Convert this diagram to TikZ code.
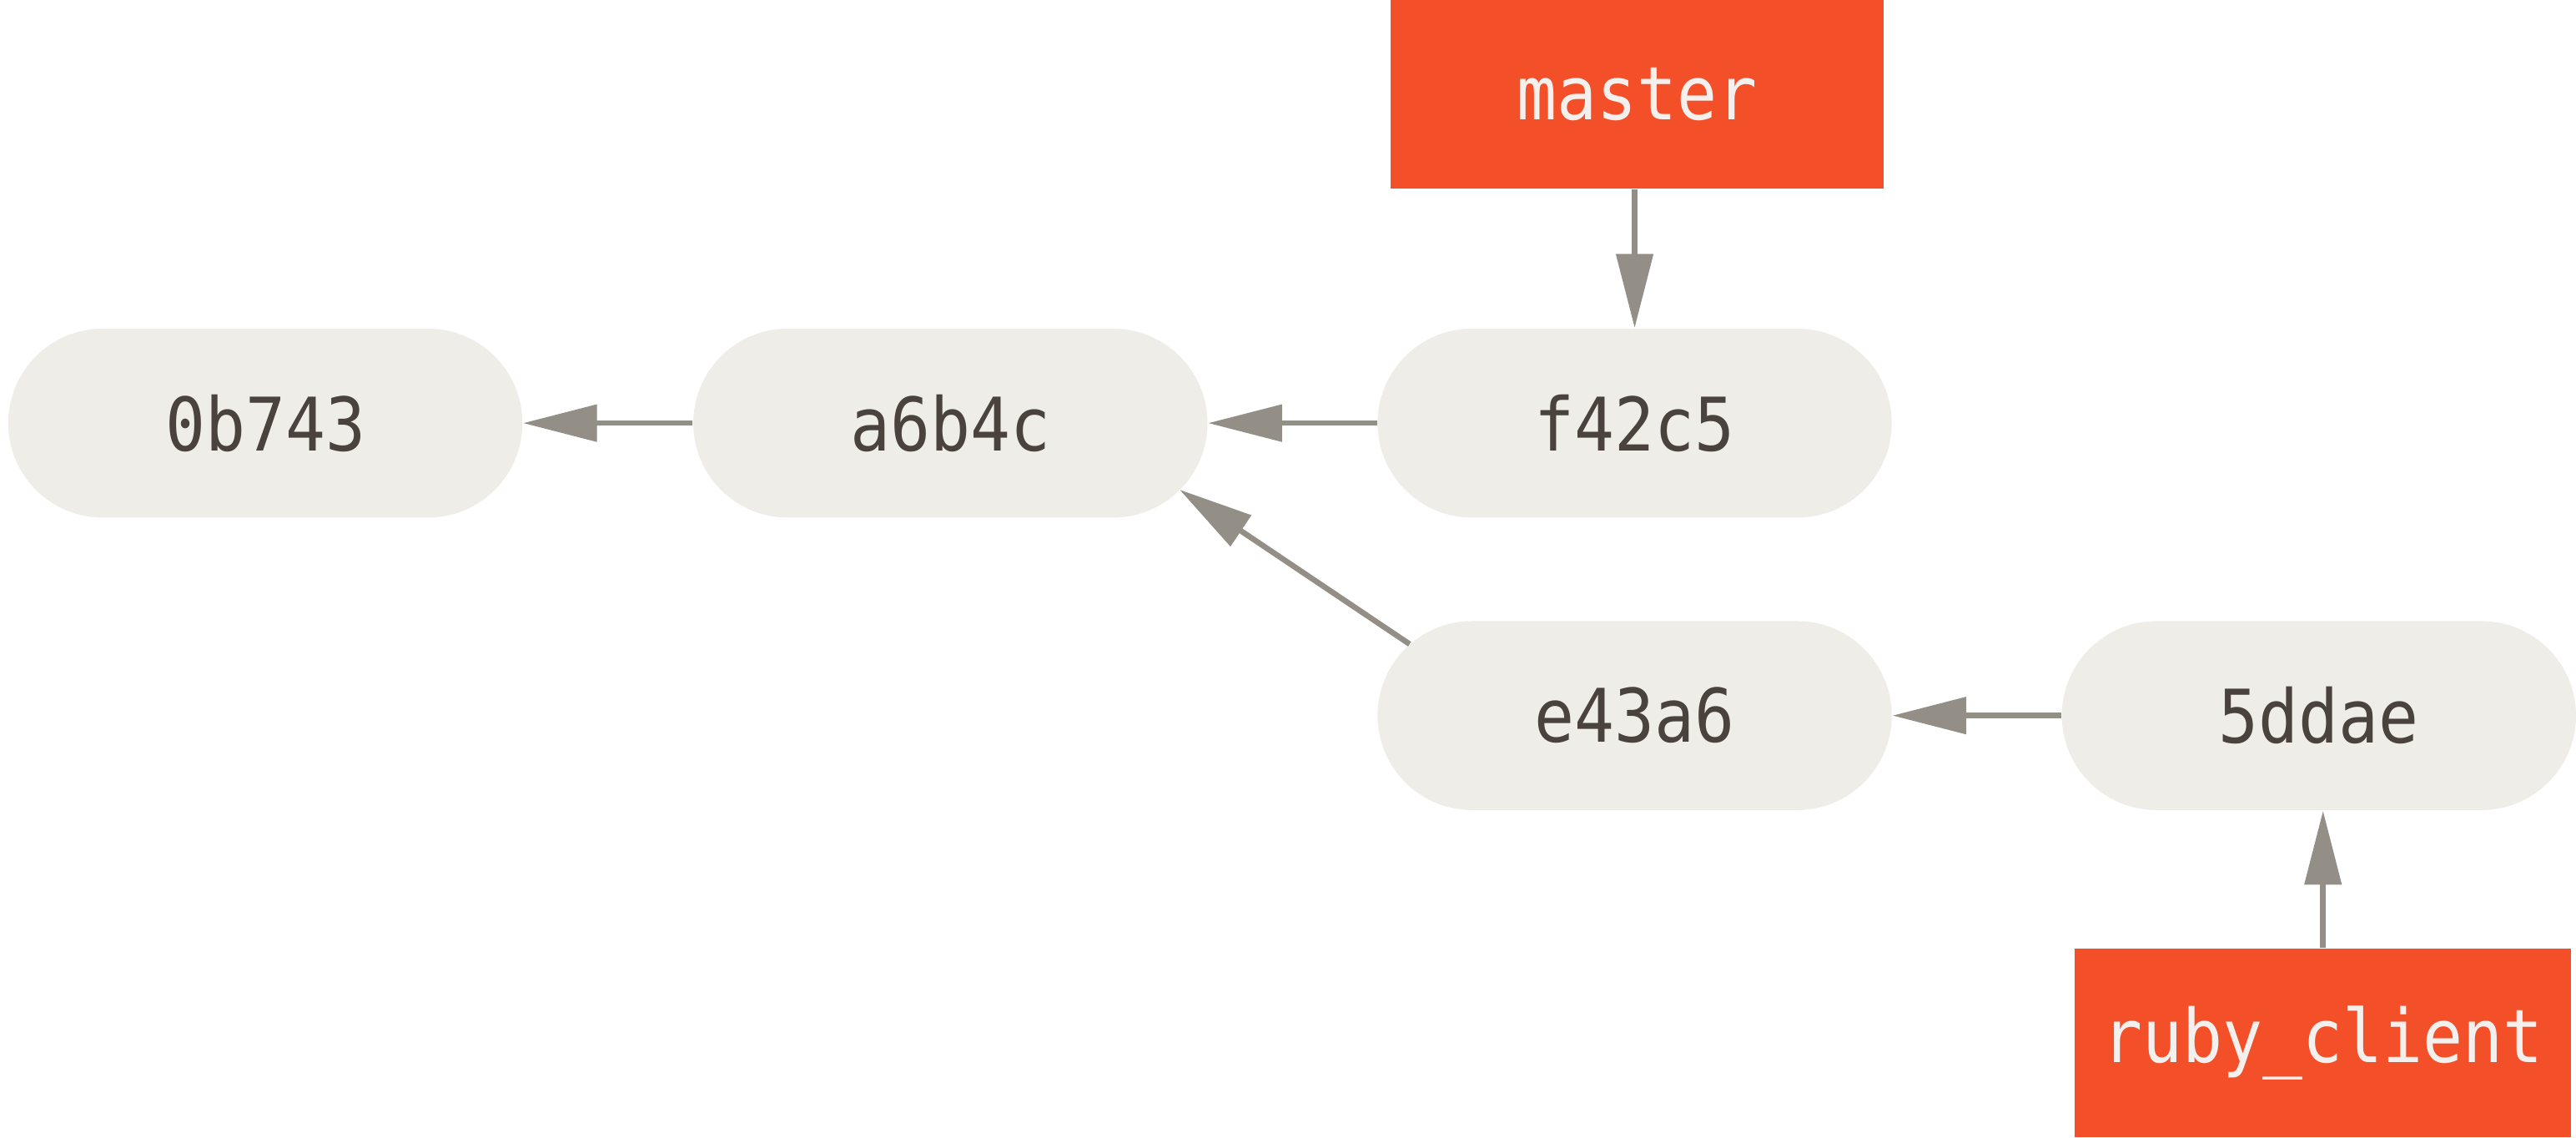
\documentclass[tikz,border=0pt]{standalone}
\usepackage{fontspec}
\newfontfamily\labelmono[FakeStretch=0.9]{DejaVu Sans Mono}
\usetikzlibrary{arrows.meta,calc}
\definecolor{pillfill}{HTML}{EEEDE7}
\definecolor{txtcol}{HTML}{4A423C}
\definecolor{branchfill}{HTML}{F34F29}
\definecolor{arrcol}{HTML}{938E86}
\definecolor{branchtxt}{HTML}{F4F0EE}
\tikzset{
  commitbox/.style={fill=pillfill, rounded corners=28.75pt, minimum width=156.5pt,
    minimum height=57.5pt, inner sep=0pt, text=txtcol,
    font=\fontsize{22.5}{27}\selectfont\labelmono},
  branchbox/.style={fill=branchfill, minimum width=150pt, minimum height=57.5pt,
    inner sep=0pt, text=branchtxt, font=\fontsize{22.5}{27}\selectfont\labelmono},
  arrowline/.style={draw=arrcol, line width=1.7pt, -{Triangle[length=22.5pt,width=11pt]}}
}
\begin{document}
\begin{tikzpicture}[x=0.5pt,y=-0.5pt]
\useasboundingbox (0,0) rectangle (1568,692.1);
\node[commitbox] (c0) at (161.5,257.5) {0b743};
\node[commitbox] (c1) at (578.5,257.5) {a6b4c};
\node[commitbox] (c2) at (995,257.5) {f42c5};
\node[commitbox] (c3) at (995,435.5) {e43a6};
\node[commitbox] (c4) at (1411.5,435.5) {5ddae};
\node[branchbox] (master) at (996.5,57.5) {master};
\node[branchbox, minimum width=151pt] (ruby) at (1414,634.6) {ruby\_client};
\draw[arrowline] (c1.west) -- (c0.east);
\draw[arrowline] (c2.west) -- (c1.east);
\draw[arrowline] (c4.west) -- (c3.east);
\draw[arrowline] ($(c3)+(-137,-43.5)$) -- ($(c1)+(139.5,40.5)$);
\draw[arrowline] (c2.north |- master.south) -- (c2.north);
\draw[arrowline] (ruby.north) -- (ruby.north |- c4.south);
\end{tikzpicture}
\end{document}
